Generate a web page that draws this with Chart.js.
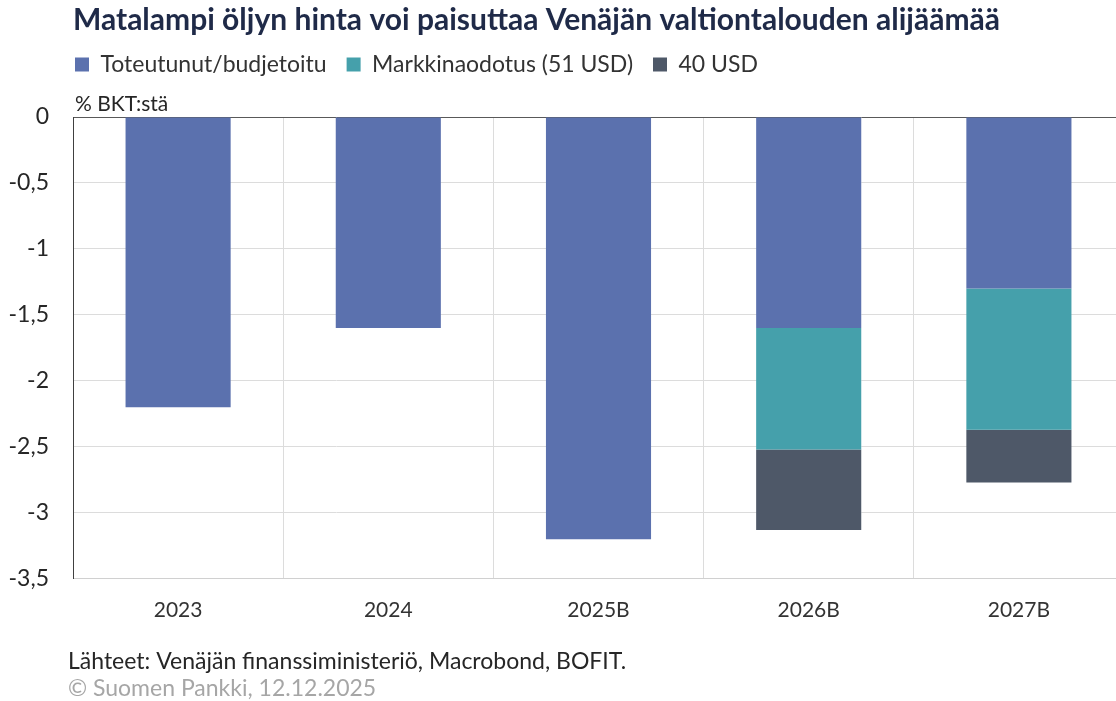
<!DOCTYPE html>
<html>
<head>
<meta charset="utf-8">
<script src="https://cdn.jsdelivr.net/npm/chart.js@4/dist/chart.umd.min.js"></script>
<style>
  html, body { margin: 0; padding: 0; background: #fff; overflow: hidden; }
  #wrap { width: 1124px; height: 701px; }
</style>
</head>
<body>
<div id="wrap"><canvas id="chartDeficit"></canvas></div>
<script>
const years = ['2023', '2024', '2025B', '2026B', '2027B'];
const toteutunut = [-2.2, -1.6, -3.2, -1.6, -1.3];
const markkina = [null, null, null, -0.92, -1.07];
const usd40 = [null, null, null, -0.61, -0.4];
const yTicks = [0, -0.5, -1, -1.5, -2, -2.5, -3, -3.5];

const fontFam = 'Lato, "Noto Sans", sans-serif';

// extra room under the legend for the "% BKT:stä" label
const legendGap = {
    id: 'legendGap',
    beforeInit(chart) {
        const fit = chart.legend.fit;
        chart.legend.fit = function () {
            fit.bind(chart.legend)();
            this.height += 23;
        };
    },
    afterLayout(chart) {
        // title and legend start at the plot's left edge
        chart.titleBlock.left += 73;
        chart.titleBlock.right += 73;
        chart.legend.left += 55;
        chart.legend.right += 55;
        chart.legend.top -= 8;
        chart.legend.bottom -= 8;
    }
};

const extraText = {
    id: 'extraText',
    afterDraw(chart) {
        const c = chart.ctx;
        c.save();
        c.textBaseline = 'middle';
        c.textAlign = 'left';
        c.font = '21px ' + fontFam;
        c.fillStyle = '#262626';
        c.fillText('% BKT:stä', 75, 104);
        c.font = '23px ' + fontFam;
        c.fillStyle = '#262626';
        c.fillText('Lähteet: Venäjän finanssiministeriö, Macrobond, BOFIT.', 68, 662);
        c.fillStyle = '#a6a6a6';
        c.fillText('© Suomen Pankki, 12.12.2025', 68, 689);
        c.restore();
    }
};

const ctx = document.getElementById('chartDeficit').getContext('2d');
const chartDeficit = new Chart(ctx, {
    type: 'bar',
    data: {
        labels: years,
        datasets: [{
            label: 'Toteutunut/budjetoitu',
            data: toteutunut,
            backgroundColor: '#5b71ae'
        }, {
            label: 'Markkinaodotus (51 USD)',
            data: markkina,
            backgroundColor: '#45a0ab'
        }, {
            label: '40 USD',
            data: usd40,
            backgroundColor: '#4e5868'
        }]
    },
    options: {
        responsive: true,
        maintainAspectRatio: false,
        animation: false,
        datasets: {
            bar: { categoryPercentage: 1, barPercentage: 0.5 }
        },
        layout: { padding: { top: 0, left: 0, right: 0, bottom: 59 } },
        scales: {
            x: {
                stacked: true,
                grid: { color: '#dcdcdc', offset: true, drawTicks: false },
                border: { color: '#d0d0d0' },
                ticks: { color: '#333', padding: 19, font: { family: fontFam, size: 21 } }
            },
            y: {
                stacked: true,
                min: -3.5,
                max: 0,
                afterBuildTicks(axis) {
                    axis.ticks = yTicks.map(v => ({ value: v }));
                },
                afterFit(axis) { axis.width = 73; },
                grid: {
                    drawTicks: false,
                    color: c => c.tick && c.tick.value === 0 ? '#595959' : '#dcdcdc'
                },
                border: { color: '#404040' },
                ticks: {
                    color: '#262626',
                    padding: 24,
                    font: { family: fontFam, size: 23 },
                    callback: v => String(v).replace('.', ',')
                }
            }
        },
        plugins: {
            title: {
                display: true,
                text: 'Matalampi öljyn hinta voi paisuttaa Venäjän valtiontalouden alijäämää',
                align: 'start',
                color: '#1f2a48',
                font: { family: fontFam, size: 30, weight: 'bold' },
                padding: { top: 2, bottom: 3 }
            },
            legend: {
                display: true,
                align: 'start',
                labels: {
                    boxWidth: 14,
                    boxHeight: 14,
                    color: '#333',
                    padding: 20,
                    font: { family: fontFam, size: 23 }
                }
            },
            tooltip: { enabled: false }
        }
    },
    plugins: [legendGap, extraText]
});
</script>
</body>
</html>
